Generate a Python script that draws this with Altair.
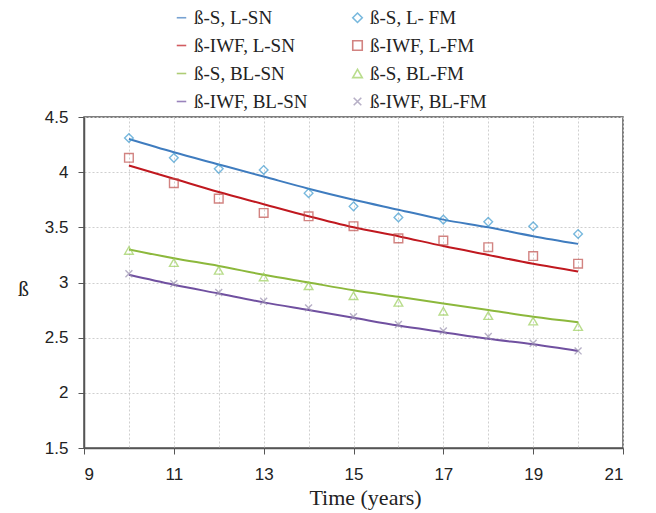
import altair as alt
import pandas as pd

years = [10, 11, 12, 13, 14, 15, 16, 17, 18, 19, 20]

# smooth model curves (SN)
s_l_sn = [4.30, 4.18, 4.07, 3.96, 3.85, 3.75, 3.66, 3.57, 3.50, 3.42, 3.35]
iwf_l_sn = [4.06, 3.94, 3.82, 3.71, 3.60, 3.50, 3.42, 3.33, 3.25, 3.17, 3.10]
s_bl_sn = [3.30, 3.22, 3.15, 3.07, 3.00, 2.93, 2.87, 2.81, 2.75, 2.69, 2.64]
iwf_bl_sn = [3.07, 2.98, 2.90, 2.82, 2.75, 2.68, 2.61, 2.55, 2.49, 2.44, 2.38]

# point estimates (FM)
s_l_fm = [4.31, 4.13, 4.03, 4.02, 3.81, 3.69, 3.59, 3.57, 3.55, 3.51, 3.44]
iwf_l_fm = [4.13, 3.90, 3.76, 3.63, 3.60, 3.51, 3.40, 3.38, 3.32, 3.24, 3.17]
s_bl_fm = [3.29, 3.18, 3.11, 3.05, 2.97, 2.88, 2.82, 2.74, 2.70, 2.65, 2.60]
iwf_bl_fm = [3.08, 2.99, 2.91, 2.83, 2.77, 2.69, 2.62, 2.56, 2.51, 2.45, 2.38]

sn_names = ["ß-S, L-SN", "ß-IWF, L-SN", "ß-S, BL-SN", "ß-IWF, BL-SN"]
fm_names = ["ß-S, L- FM", "ß-IWF, L-FM", "ß-S, BL-FM", "ß-IWF, BL-FM"]
legend_order = sn_names + fm_names

sn_colors = ["#3f7cbf", "#c0181f", "#8cb83c", "#7050a0"]
fm_colors = ["#3f9bd0", "#c0504d", "#9ccf5c", "#9a90b0"]
legend_colors = sn_colors + fm_colors
x_path = "M-0.8,-0.8L0.8,0.8M-0.8,0.8L0.8,-0.8"
legend_shapes = ["stroke", "stroke", "stroke", "stroke",
                 "diamond", "square", "triangle-up", x_path]

sn_rows = []
for name, vals in zip(sn_names, [s_l_sn, iwf_l_sn, s_bl_sn, iwf_bl_sn]):
    for t, v in zip(years, vals):
        sn_rows.append({"series": name, "t": t, "beta": v})
fm_rows = []
for name, vals in zip(fm_names, [s_l_fm, iwf_l_fm, s_bl_fm, iwf_bl_fm]):
    for t, v in zip(years, vals):
        fm_rows.append({"series": name, "t": t, "beta": v})

sn_df = pd.DataFrame(sn_rows)
fm_df = pd.DataFrame(fm_rows)

x_enc = alt.X(
    "t:Q",
    scale=alt.Scale(domain=[9, 21], nice=False, zero=False),
    axis=alt.Axis(
        values=list(range(9, 22)),
        labelExpr="datum.value % 2 == 1 ? datum.value + '' : ''",
        tickColor={"condition": {"test": "datum.value % 2 == 0", "value": "transparent"}, "value": "#555"},
        title="Time (years)",
        titleX=281, titleY=56, titleBaseline="alphabetic",
    ),
)
y_enc = alt.Y(
    "beta:Q",
    scale=alt.Scale(domain=[1.5, 4.5], nice=False, zero=False),
    axis=alt.Axis(
        values=[1.5, 2, 2.5, 3, 3.5, 4, 4.5],
        labelExpr="datum.value + ''",
        title="ß", titleAngle=0, titleX=-61, titleY=171,
        titleAlign="center", titleBaseline="middle",
    ),
)

lines = alt.Chart(sn_df).mark_line(strokeWidth=2, interpolate="monotone").encode(
    x=x_enc, y=y_enc,
    stroke=alt.Stroke("series:N", scale=alt.Scale(domain=sn_names, range=sn_colors), legend=None),
    detail="series:N",
)

points = alt.Chart(fm_df).mark_point(filled=False, size=75, strokeWidth=1.4).encode(
    x=x_enc, y=y_enc,
    color=alt.Color("series:N", scale=alt.Scale(domain=legend_order, range=legend_colors), title=None),
    shape=alt.Shape("series:N", scale=alt.Scale(domain=legend_order, range=legend_shapes), title=None),
)

chart = alt.layer(lines, points).properties(
    width=539, height=331,
    autosize=alt.AutoSizeParams(type="none"),
    padding={"left": 76, "top": 109, "right": 25, "bottom": 62},
).configure_view(
    stroke="#555", strokeWidth=1.5,
).configure_axis(
    labelFont="Liberation Sans", labelFontSize=17, labelColor="#222",
    titleFont="Liberation Serif", titleFontSize=22, titleFontWeight="normal", titleColor="#222",
    domainColor="#555", domainWidth=1.5, tickColor="#555", tickSize=6,
    gridColor="#cfcfcf", gridDash=[2, 2], gridWidth=1, labelPadding=10,
).configure_axisX(
    labelPadding=12,
).configure_legend(
    orient="none", legendX=88, legendY=-109, columns=2, direction="vertical",
    labelFont="Liberation Serif", labelFontSize=19, labelColor="#222",
    symbolSize=90, symbolStrokeWidth=1.6, rowPadding=8, columnPadding=40,
    labelOffset=3, labelLimit=300,
)

chart.save("out.html", embed_options={"renderer": "svg", "actions": False})
